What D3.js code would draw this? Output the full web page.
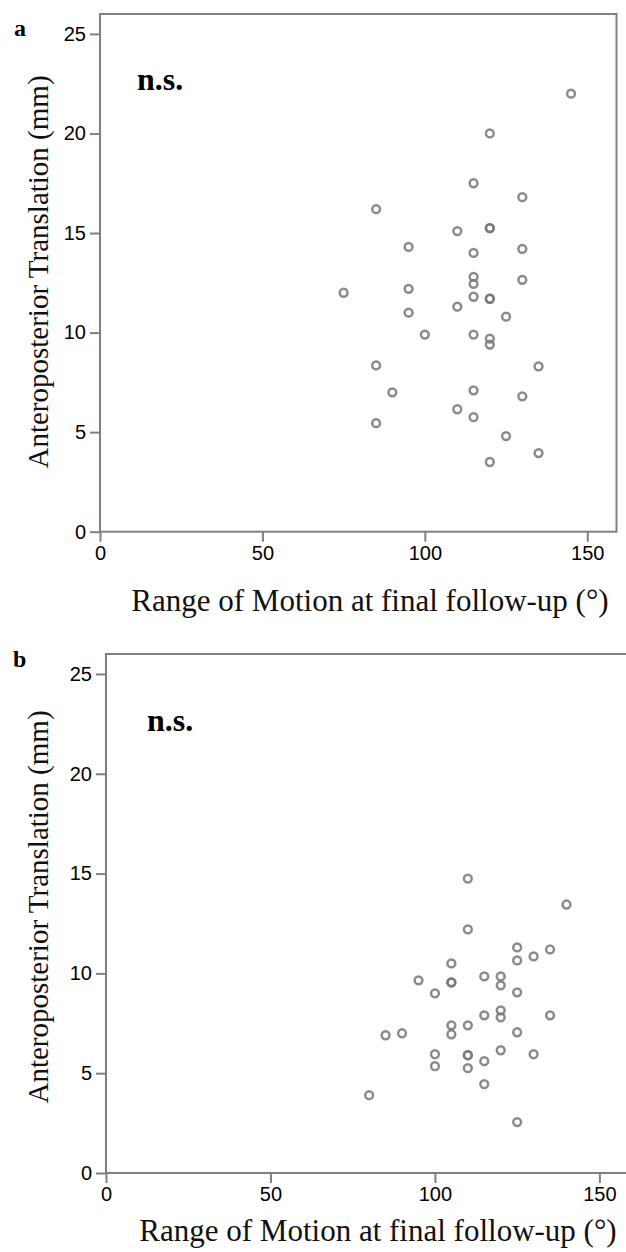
<!DOCTYPE html>
<html>
<head>
<meta charset="utf-8">
<script src="https://cdn.jsdelivr.net/npm/d3@7"></script>
<style>
  html, body { margin: 0; padding: 0; background: #fff; }
  svg { display: block; }
</style>
</head>
<body>
<svg id="chart" width="626" height="1252"></svg>
<script>
// ---- data ----
const panelLabels = ["a", "b"];
const annotation = "n.s.";
const xTicks = [0, 50, 100, 150];
const yTicks = [0, 5, 10, 15, 20, 25];
const xTitle = "Range of Motion at final follow-up (°)";
const yTitle = "Anteroposterior Translation (mm)";

// panel a
const romA = [145, 120, 115, 130, 85, 120, 120, 110, 95, 115, 130, 115, 115, 130, 75, 95, 115, 120, 120, 110, 95, 125, 100, 115, 120, 120, 85, 135, 90, 115, 130, 110, 115, 85, 125, 135, 120];
const apA  = [22, 20, 17.5, 16.8, 16.2, 15.25, 15.25, 15.1, 14.3, 14.0, 14.2, 12.8, 12.45, 12.65, 12.0, 12.2, 11.8, 11.7, 11.7, 11.3, 11.0, 10.8, 9.9, 9.9, 9.7, 9.4, 8.35, 8.3, 7.0, 7.1, 6.8, 6.15, 5.75, 5.45, 4.8, 3.95, 3.5];

// panel b
const romB = [110, 140, 110, 125, 135, 130, 125, 105, 95, 105, 105, 115, 120, 120, 100, 125, 120, 120, 115, 135, 105, 105, 110, 85, 90, 125, 100, 100, 110, 110, 110, 115, 120, 130, 115, 80, 125];
const apB  = [14.75, 13.45, 12.2, 11.3, 11.2, 10.85, 10.65, 10.5, 9.65, 9.55, 9.55, 9.85, 9.85, 9.4, 9.0, 9.05, 8.15, 7.8, 7.9, 7.9, 7.4, 6.95, 7.4, 6.9, 7.0, 7.05, 5.95, 5.35, 5.9, 5.9, 5.25, 5.6, 6.15, 5.95, 4.45, 3.9, 2.55];

// ---- layout ----
const panels = [
  { label: panelLabels[0], x: romA, y: apA, left: 100, right: 616.5, top: 14, bottom: 531.7,
    labelPos: [14, 36], nsPos: [137, 90], yTitleX: 48, yTitleY: 272, xTitleX: 370, xTitleY: 611 },
  { label: panelLabels[1], x: romB, y: apB, left: 106, right: 629, top: 654, bottom: 1173,
    labelPos: [13, 667], nsPos: [147, 731], yTitleX: 48, yTitleY: 907, xTitleX: 378, xTitleY: 1241 }
];

const svg = d3.select("#chart");
const grey = "#808080";
const serif = "'Liberation Serif', 'Times New Roman', serif";

panels.forEach(p => {
  const xs = d3.scaleLinear().domain([0, 159]).range([p.left, p.right]);
  const ys = d3.scaleLinear().domain([0, 26]).range([p.bottom, p.top]);
  const g = svg.append("g");

  // frame
  g.append("rect")
    .attr("x", p.left).attr("y", p.top)
    .attr("width", p.right - p.left).attr("height", p.bottom - p.top)
    .attr("fill", "none").attr("stroke", grey).attr("stroke-width", 2);

  // axes
  const xAxis = d3.axisBottom(xs).tickValues(xTicks).tickSize(10).tickPadding(4).tickSizeOuter(0);
  const yAxis = d3.axisLeft(ys).tickValues(yTicks).tickSize(10).tickPadding(4).tickSizeOuter(0);

  const gx = g.append("g").attr("transform", `translate(0,${p.bottom})`).call(xAxis);
  const gy = g.append("g").attr("transform", `translate(${p.left},0)`).call(yAxis);
  [gx, gy].forEach(a => {
    a.select(".domain").remove();
    a.selectAll(".tick line").attr("stroke", grey).attr("stroke-width", 2);
    a.selectAll(".tick text")
      .attr("fill", "#000")
      .style("font-family", "'Liberation Sans', Arial, sans-serif")
      .style("font-size", "20px");
  });

  // points
  g.append("g").selectAll("circle")
    .data(p.x.map((d, i) => [d, p.y[i]]))
    .join("circle")
    .attr("cx", d => xs(d[0]))
    .attr("cy", d => ys(d[1]))
    .attr("r", 3.9)
    .attr("fill", "none")
    .attr("stroke", "#777")
    .attr("stroke-opacity", 0.85)
    .attr("stroke-width", 2.5);

  // panel label
  g.append("text")
    .attr("x", p.labelPos[0]).attr("y", p.labelPos[1])
    .style("font-family", serif)
    .style("font-weight", "bold").style("font-size", "24px")
    .text(p.label);

  // annotation
  g.append("text")
    .attr("x", p.nsPos[0]).attr("y", p.nsPos[1])
    .style("font-family", serif)
    .style("font-weight", "bold").style("font-size", "32px")
    .text(annotation);

  // x title
  g.append("text")
    .attr("x", p.xTitleX).attr("y", p.xTitleY)
    .attr("text-anchor", "middle")
    .style("font-family", serif)
    .style("font-size", "31px")
    .attr("fill", "#111")
    .text(xTitle);

  // y title
  g.append("text")
    .attr("transform", `translate(${p.yTitleX},${p.yTitleY}) rotate(-90)`)
    .attr("text-anchor", "middle")
    .style("font-family", serif)
    .style("font-size", "29px")
    .attr("fill", "#111")
    .text(yTitle);
});
</script>
</body>
</html>
